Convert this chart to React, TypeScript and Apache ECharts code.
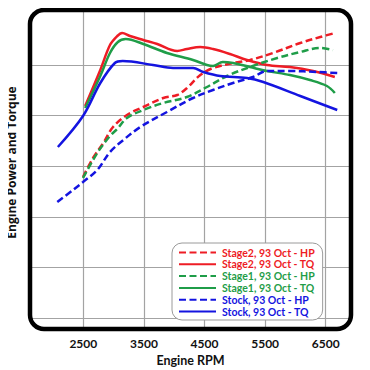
import React, { useEffect, useRef } from "react";
import * as echarts from "echarts";

const stage2HpRpm = [2495, 2660, 2830, 2990, 3220, 3490, 3820, 4050, 4210, 4430, 4640, 4970, 5250, 5630, 6080, 6410, 6650];
const stage2HpVal = [152, 171, 186, 202, 214, 222, 231, 234, 241, 254, 261, 266, 269, 276, 286, 292, 296];

const stage2TqRpm = [2530, 2780, 2940, 3060, 3140, 3270, 3490, 3720, 4050, 4210, 4430, 4640, 4920, 5200, 5530, 5910, 6290, 6650];
const stage2TqVal = [223, 259, 284, 293, 296, 293, 289, 285, 278, 280, 282, 280, 275, 269, 264, 262, 258, 252];

const stage1HpRpm = [2495, 2730, 2940, 3060, 3220, 3490, 3820, 4210, 4540, 4870, 5250, 5700, 6080, 6410, 6620];
const stage1HpVal = [151, 176, 193, 200, 211, 219, 226, 232, 242, 253, 262, 271, 277, 281, 279];

const stage1TqRpm = [2530, 2780, 2940, 3070, 3200, 3490, 3880, 4310, 4540, 4640, 4800, 4970, 5250, 5530, 5910, 6240, 6520, 6650];
const stage1TqVal = [221, 253, 276, 287, 290, 285, 276, 269, 264, 263, 267, 266, 262, 258, 254, 249, 243, 236];

const stockHpRpm = [2070, 2330, 2495, 2730, 2940, 3160, 3440, 3880, 4310, 4640, 4970, 5300, 5530, 5910, 6360, 6690];
const stockHpVal = [127, 139, 147, 159, 177, 189, 202, 217, 231, 239, 246, 252, 258, 258, 257, 256];

const stockTqRpm = [2080, 2495, 2780, 3020, 3150, 3650, 3980, 4310, 4480, 4760, 5200, 5470, 6080, 6690];
const stockTqVal = [182, 213, 246, 266, 268, 264, 261, 261, 257, 253, 251, 247, 233, 219];

const rpmTicks = [2500, 3500, 4500, 5500, 6500];
const valueGridLines = [11, 61.6, 112.2, 162.8, 213.4, 264];

const seriesNames = [
  "Stage2, 93 Oct - HP",
  "Stage2, 93 Oct - TQ",
  "Stage1, 93 Oct - HP",
  "Stage1, 93 Oct - TQ",
  "Stock, 93 Oct - HP",
  "Stock, 93 Oct - TQ",
];

const RED = "#ee1c25";
const GREEN = "#1f9d48";
const BLUE = "#1414e0";
const FONT = "Lato";

function zip(a: number[], b: number[]) {
  return a.map((x, i) => [x, b[i]]);
}

export default function App() {
  const ref = useRef<HTMLDivElement>(null);
  useEffect(() => {
    if (!ref.current) return;
    const chart = echarts.init(ref.current, null, { renderer: "svg" });
    const colors = [RED, RED, GREEN, GREEN, BLUE, BLUE];
    const dataSets = [
      zip(stage2HpRpm, stage2HpVal),
      zip(stage2TqRpm, stage2TqVal),
      zip(stage1HpRpm, stage1HpVal),
      zip(stage1TqRpm, stage1TqVal),
      zip(stockHpRpm, stockHpVal),
      zip(stockTqRpm, stockTqVal),
    ];
    const curveSeries = seriesNames.map((name, i) => ({
      name,
      type: "line",
      data: dataSets[i],
      smooth: 0.35,
      showSymbol: false,
      symbol: "none",
      z: 3,
      lineStyle: {
        color: colors[i],
        width: 2.5,
        type: i % 2 === 0 ? [7, 3.5] : "solid",
      },
      itemStyle: { color: colors[i] },
    }));
    const gridSeries = {
      name: "grid",
      type: "line",
      data: [[1620, 0]],
      showSymbol: false,
      symbol: "none",
      lineStyle: { width: 0, opacity: 0 },
      z: 1,
      markLine: {
        silent: true,
        z: 1,
        symbol: ["none", "none"],
        label: { show: false },
        lineStyle: { color: "#a3a3a3", width: 1.2, type: "solid" },
        data: [
          ...rpmTicks.map((v) => ({ xAxis: v })),
          ...valueGridLines.map((v) => ({ yAxis: v })),
        ],
      },
    };
    chart.setOption({
      animation: false,
      grid: { left: 30, top: 10, width: 321, height: 319, outerBoundsMode: "none", containLabel: false },
      xAxis: {
        type: "value",
        min: 1620,
        max: 6917,
        axisLine: { show: false },
        axisTick: { show: false },
        splitLine: { show: false },
        axisLabel: {
          customValues: rpmTicks,
          formatter: (v: number) => String(v),
          margin: 8,
          fontFamily: FONT,
          fontWeight: "bold",
          fontSize: 12,
          color: "#111",
        },
        name: "Engine RPM",
        nameLocation: "middle",
        nameGap: 25,
        nameTextStyle: { fontFamily: FONT, fontWeight: "bold", fontSize: 12.5, color: "#111" },
      },
      yAxis: {
        type: "value",
        min: 0,
        max: 319,
        axisLine: { show: false },
        axisTick: { show: false },
        splitLine: { show: false },
        axisLabel: { show: false },
        name: "Engine Power and Torque",
        nameLocation: "middle",
        nameGap: 13,
        nameTextStyle: { fontFamily: "Open Sans", fontWeight: "bold", fontSize: 12, color: "#111", padding: [0, 0, 0, 14] },
      },
      legend: {
        orient: "vertical",
        left: 172,
        top: 243,
        z: 50,
        padding: [4, 8, 3, 6],
        backgroundColor: "#fff",
        borderColor: "#9a9a9a",
        borderWidth: 1,
        borderRadius: 10,
        itemWidth: 37,
        itemHeight: 10,
        itemGap: 0.8,
        selectedMode: false,
        itemStyle: { opacity: 0 },
        textStyle: { fontFamily: FONT, fontWeight: "bold", fontSize: 10.5, padding: [0, 0, 0, 1] },
        data: seriesNames.map((name, i) => ({
          name,
          textStyle: { color: colors[i] },
        })),
      },
      graphic: [
        {
          type: "rect",
          shape: { x: 30, y: 10, width: 321, height: 319, r: 14 },
          style: { fill: "none", stroke: "#000", lineWidth: 4.5 },
          z: 100,
          silent: true,
        },
      ],
      series: [gridSeries, ...curveSeries],
    });
    return () => chart.dispose();
  }, []);
  return <div ref={ref} style={{ width: 370, height: 370, marginLeft: -8, marginTop: -8 }} />;
}
